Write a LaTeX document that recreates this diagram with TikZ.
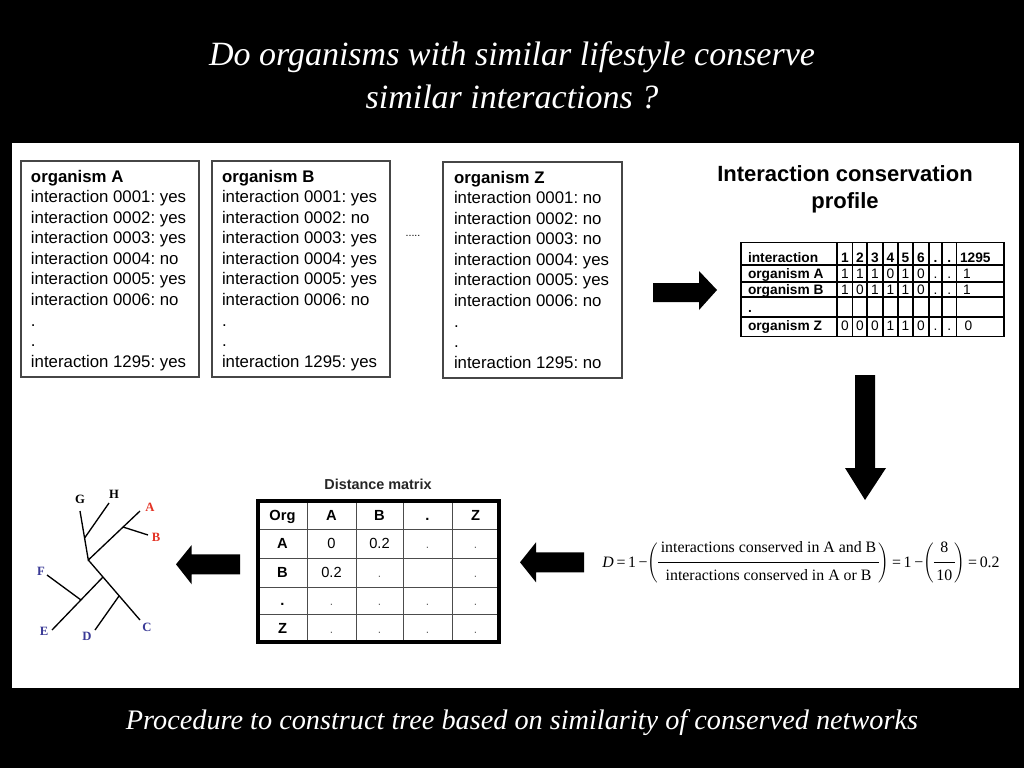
\documentclass[tikz,border=0pt]{standalone}
\usepackage{fontspec}
\setmainfont{Liberation Serif}
\setsansfont{Liberation Sans}
\definecolor{treered}{RGB}{228,52,38}
\definecolor{treeblue}{RGB}{58,58,150}
\definecolor{boxgray}{RGB}{70,70,70}
\frenchspacing
\begin{document}
\begin{tikzpicture}[x=0.75pt,y=-0.75pt, every node/.style={inner sep=0pt, outer sep=0pt},
  orgbox/.style={draw=boxgray, line width=0.8pt, anchor=north west},
  orgtext/.style={anchor=north west, align=left, font=\sffamily\fontsize{12.6}{15.42}\selectfont},
  blockarrow/.style={fill=black},
  proftxt/.style={font=\sffamily\fontsize{10.3}{12}\selectfont, text height=7.4pt, text depth=0pt},
  profbold/.style={font=\sffamily\bfseries\fontsize{10.3}{12}\selectfont, text height=7.4pt, text depth=0pt},
  dmtxt/.style={font=\sffamily\fontsize{11}{13}\selectfont, text height=7.9pt, text depth=0pt},
  dmbold/.style={font=\sffamily\bfseries\fontsize{11}{13}\selectfont, text height=7.9pt, text depth=0pt},
  dmdot/.style={font=\sffamily\fontsize{9}{10}\selectfont, text=black!60, text height=7.9pt, text depth=0pt},
  treelabel/.style={font=\bfseries\fontsize{9.5}{11}\selectfont},
  branch/.style={line width=1pt, black}]
\fill[black] (0,0) rectangle (1024,768);
\useasboundingbox (0,0) rectangle (1024,768);
\fill[white] (12,143) rectangle (1019,688);

% titles
\node[text=white, align=center, font=\itshape\fontsize{25.5}{32.3}\selectfont] (title) at (512,75) {Do organisms with similar lifestyle conserve\\similar interactions ?};
\node[text=white, font=\itshape\fontsize{21.2}{24}\selectfont] (caption) at (522,723) {Procedure to construct tree based on similarity of conserved networks};

% organism boxes
\node[orgbox, minimum width=133.5pt, minimum height=162pt] (boxA) at (21,161) {};
\node[orgtext] (txtA) at (31,170) {\textbf{organism A}\\interaction 0001: yes\\interaction 0002: yes\\interaction 0003: yes\\interaction 0004: no\\interaction 0005: yes\\interaction 0006: no\\.\\.\\interaction 1295: yes};
\node[orgbox, minimum width=133.5pt, minimum height=162pt] (boxB) at (212,161) {};
\node[orgtext] (txtB) at (222,170) {\textbf{organism B}\\interaction 0001: yes\\interaction 0002: no\\interaction 0003: yes\\interaction 0004: yes\\interaction 0005: yes\\interaction 0006: no\\.\\.\\interaction 1295: yes};
\node[font=\sffamily\fontsize{8}{9}\selectfont] (dots) at (413,236) {.....};
\node[orgbox, minimum width=134.25pt, minimum height=162pt] (boxZ) at (443,162) {};
\node[orgtext] (txtZ) at (454,171) {\textbf{organism Z}\\interaction 0001: no\\interaction 0002: no\\interaction 0003: no\\interaction 0004: yes\\interaction 0005: yes\\interaction 0006: no\\.\\.\\interaction 1295: no};

% profile title and table
\node[align=center, font=\sffamily\bfseries\fontsize{16.5}{20.25}\selectfont] (proftitle) at (845,189) {Interaction conservation\\profile};
\draw[line width=0.9pt] (741,242.5) rectangle (1004,336.7);
\foreach \yy in {265,281.7,296.7,316.7} \draw[line width=1.2pt] (741,\yy) -- (1004,\yy);
\foreach \xx in {837,852.7,867,883,898,913,929,942,956.7} \draw[line width=0.9pt] (\xx,242.5) -- (\xx,336.7);
\node[profbold, anchor=west] (ph) at (748,257.5) {interaction};
\node[profbold, anchor=west] (pa) at (748,274) {organism A};
\node[profbold, anchor=west] (pb) at (748,290) {organism B};
\node[profbold, anchor=west] (pd) at (748,308) {.};
\node[profbold, anchor=west] (pz) at (748,325.5) {organism Z};
\foreach \cx/\hv/\av/\bv/\zv [count=\i] in {844.85/1/1/1/0, 859.85/2/1/0/0, 875/3/1/1/0, 890.5/4/0/1/1, 905.5/5/1/1/1, 921/6/0/0/0, 935.5/./././., 949.35/./././.} {
  \node[profbold] (ph\i) at (\cx,257.5) {\hv};
  \node[proftxt] (pa\i) at (\cx,274) {\av};
  \node[proftxt] (pb\i) at (\cx,290) {\bv};
  \node[proftxt] (pz\i) at (\cx,325.5) {\zv};
}
\node[profbold, anchor=west] (ph9) at (960,257.5) {1295};
\node[proftxt, anchor=west] (pa9) at (963,274) {1};
\node[proftxt, anchor=west] (pb9) at (963,290) {1};
\node[proftxt, anchor=west] (pz9) at (964.5,325.5) {0};

% block arrows
\fill[blockarrow] (653,283) -- (699,283) -- (699,271) -- (717,290) -- (699,310) -- (699,302) -- (653,302) -- cycle;
\fill[blockarrow] (855,375) -- (875,375) -- (875,468) -- (886,468) -- (865,500) -- (845,468) -- (855,468) -- cycle;
\fill[blockarrow] (584,552.3) -- (536,552.3) -- (536,542.3) -- (520,562.3) -- (536,582.3) -- (536,572.3) -- (584,572.3) -- cycle;
\fill[blockarrow] (240,554.3) -- (191.7,554.3) -- (191.7,545) -- (176,564.3) -- (191.7,584.3) -- (191.7,574.3) -- (240,574.3) -- cycle;

% formula
\node[font=\fontsize{11.9}{13}\selectfont] (formula) at (801,563) {\textit{D}\,=\,1\,−$\left(\begin{tabular}{@{\,}c@{\,}}interactions conserved in A and B\\[3pt]\hline\rule{0pt}{13pt}interactions conserved in A or B\end{tabular}\right)$\,=\,1\,−$\left(\begin{tabular}{@{\,}c@{\,}}8\\[3pt]\hline\rule{0pt}{13pt}10\end{tabular}\right)$\,=\,0.2};

% distance matrix
\node[font=\sffamily\bfseries\fontsize{10.8}{13}\selectfont, text=black!85] (dmtitle) at (378,484) {Distance matrix};
\foreach \yy in {529,558,587,614} \draw[line width=0.6pt, black!70] (258,\yy) -- (499,\yy);
\foreach \xx in {307,356,403,452} \draw[line width=0.6pt, black!70] (\xx,501) -- (\xx,642);
\draw[line width=2.4pt] (258,501) rectangle (499,642);
\node[dmbold] (dh0) at (282.5,515) {Org};
\node[dmbold] (dh1) at (331.5,515) {A};
\node[dmbold] (dh2) at (379.5,515) {B};
\node[dmbold] (dh3) at (427.5,515) {.};
\node[dmbold] (dh4) at (475.5,515) {Z};
\node[dmbold] (dr1) at (282.5,543.5) {A};
\node[dmbold] (dr2) at (282.5,572.5) {B};
\node[dmbold] (dr3) at (282.5,600.5) {.};
\node[dmbold] (dr4) at (282.5,628) {Z};
\node[dmtxt] (d11) at (331.5,543.5) {0};
\node[dmtxt] (d12) at (379.5,543.5) {0.2};
\node[dmdot] (d13) at (427.5,543.5) {.};
\node[dmdot] (d14) at (475.5,543.5) {.};
\node[dmtxt] (d21) at (331.5,572.5) {0.2};
\node[dmdot] (d22) at (379.5,572.5) {.};
\node[dmdot] (d24) at (475.5,572.5) {.};
\foreach \cx [count=\i] in {331.5,379.5,427.5,475.5} {
  \node[dmdot] (d3\i) at (\cx,600.5) {.};
  \node[dmdot] (d4\i) at (\cx,628) {.};
}

% tree
\coordinate (R) at (88.3,560);
\coordinate (Gt) at (80,511);
\coordinate (Hj) at (84.6,538);
\coordinate (Ht) at (109,503);
\coordinate (At) at (140,511);
\coordinate (Bj) at (123,527);
\coordinate (Bt) at (148,535);
\coordinate (Ct) at (140,620);
\coordinate (Ej) at (103,577);
\coordinate (Et) at (52,630);
\coordinate (Fj) at (81,600);
\coordinate (Ft) at (47,575);
\coordinate (Dj) at (119,596);
\coordinate (Dt) at (95,630);
\draw[branch] (Gt) -- (R) -- (At);
\draw[branch] (Hj) -- (Ht);
\draw[branch] (Bj) -- (Bt);
\draw[branch] (R) -- (Ct);
\draw[branch] (Ej) -- (Et);
\draw[branch] (Fj) -- (Ft);
\draw[branch] (Dj) -- (Dt);
\node[treelabel] (lG) at (80,499) {G};
\node[treelabel] (lH) at (114,494) {H};
\node[treelabel, text=treered] (lA) at (150,507) {A};
\node[treelabel, text=treered] (lB) at (156,537) {B};
\node[treelabel, text=treeblue] (lF) at (41,571) {F};
\node[treelabel, text=treeblue] (lE) at (44,631) {E};
\node[treelabel, text=treeblue] (lD) at (87,636) {D};
\node[treelabel, text=treeblue] (lC) at (147,627) {C};
\end{tikzpicture}
\end{document}
